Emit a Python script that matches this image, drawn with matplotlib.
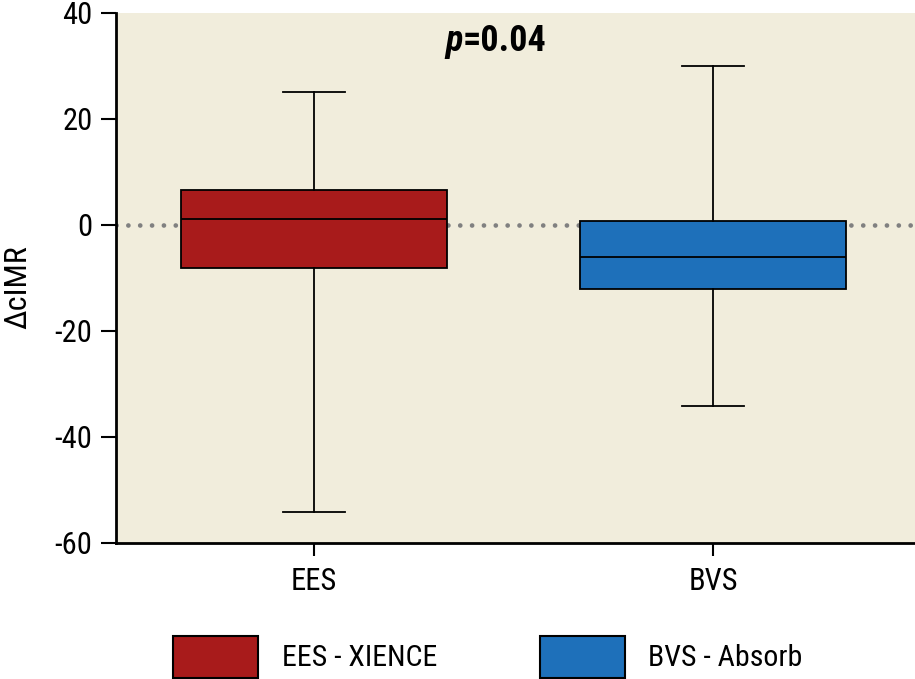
import matplotlib
matplotlib.use("Agg")
import matplotlib.pyplot as plt
from matplotlib.patches import Patch

plt.rcParams['font.family'] = ['Roboto Condensed', 'DejaVu Sans']
plt.rcParams['axes.unicode_minus'] = False

# data
groups = ["EES", "BVS"]
legend_labels = ["EES - XIENCE", "BVS - Absorb"]
whisker_low = [-54.2, -34.2]
q1 = [-8.1, -12.1]
median = [1.1, -6.0]
q3 = [6.6, 0.75]
whisker_high = [25.1, 30.0]
colors = ["#A81B1B", "#1E70BA"]

fig = plt.figure(figsize=(9.15, 6.79), dpi=100)
ax = fig.add_axes([0.1268, 0.2003, 0.8732, 0.7806])
ax.set_facecolor("#F1EDDC")

stats = []
for i, g in enumerate(groups):
    stats.append(dict(label=g, whislo=whisker_low[i], q1=q1[i], med=median[i],
                      q3=q3[i], whishi=whisker_high[i], fliers=[]))

# dotted zero line behind the boxes
ax.axhline(0, color="#808080", lw=3.4, linestyle=(0, (0.01, 2.5)),
           dash_capstyle="round", zorder=1)

lw = 1.3
bp = ax.bxp(stats, positions=[1, 2], widths=0.667, patch_artist=True,
            showfliers=False, capwidths=0.155,
            boxprops=dict(edgecolor="black", linewidth=lw),
            medianprops=dict(color="black", linewidth=lw),
            whiskerprops=dict(color="black", linewidth=lw),
            capprops=dict(color="black", linewidth=lw))
for patch, c in zip(bp["boxes"], colors):
    patch.set_facecolor(c)
    patch.set_zorder(2)

ax.set_xlim(0.504, 2.506)
ax.set_ylim(-60, 40)
ax.set_yticks([-60, -40, -20, 0, 20, 40])
ax.set_xticks([1, 2])
ax.set_xticklabels(groups)
ax.tick_params(axis="both", labelsize=22, width=1.5)
ax.tick_params(axis="y", length=11, pad=6)
ax.tick_params(axis="x", length=9.5, pad=8)
ax.set_ylabel("ΔcIMR", fontsize=23)
ax.yaxis.set_label_coords(-0.105, 0.483)

for s in ["top", "right"]:
    ax.spines[s].set_visible(False)
for s in ["left", "bottom"]:
    ax.spines[s].set_linewidth(2)

# p-value annotation: italic bold p, bold rest
fig.text(463 / 915, 1 - 51 / 679, "p", ha="right", va="baseline", fontsize=26,
         fontweight="bold", fontstyle="italic")
fig.text(463 / 915, 1 - 51 / 679, "=0.04", ha="left", va="baseline", fontsize=26,
         fontweight="bold")

handles = [Patch(facecolor=c, edgecolor="black", linewidth=1.5) for c in colors]
fig.legend(handles, legend_labels, loc="lower left", bbox_to_anchor=(173 / 915, 0.002),
           ncol=2, frameon=False, fontsize=21.5, handlelength=2.84, handleheight=1.77,
           handletextpad=0.8, columnspacing=3.44, borderpad=0, borderaxespad=0)

fig.savefig("out.png", dpi=100)
